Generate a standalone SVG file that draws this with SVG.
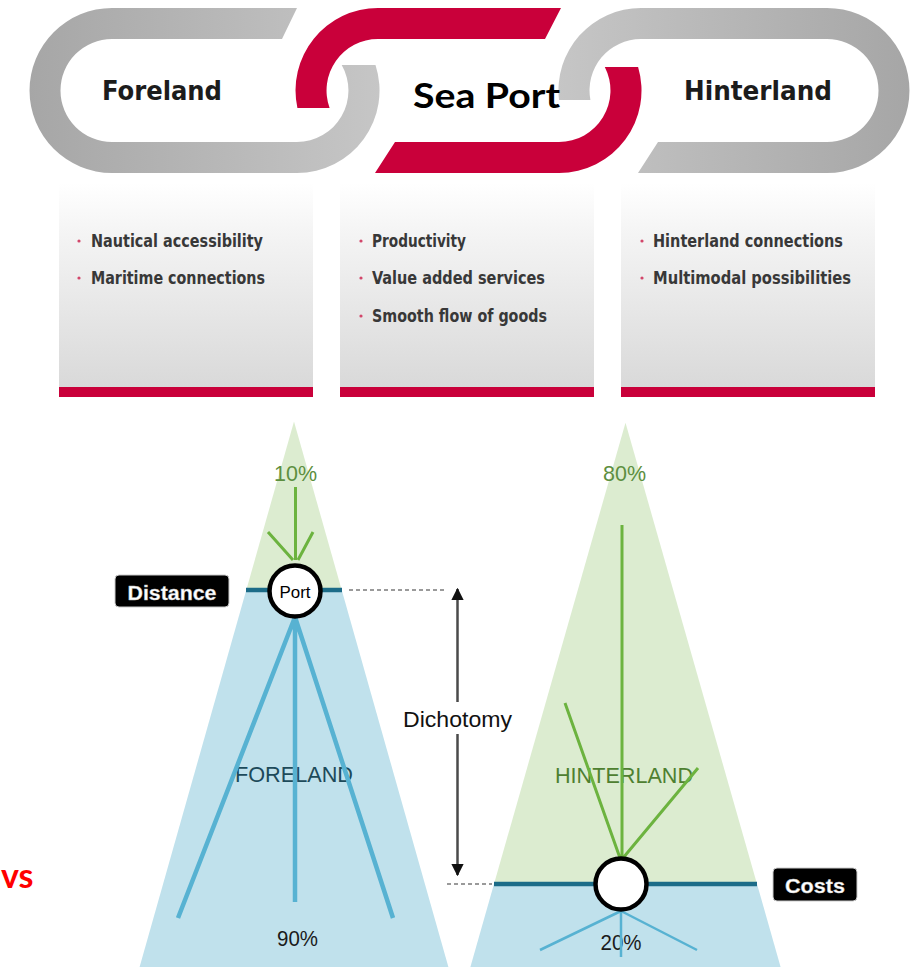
<svg xmlns="http://www.w3.org/2000/svg" width="914" height="967" viewBox="0 0 914 967">
<style>
.cond{font-family:"Liberation Sans Narrow","DejaVu Sans Condensed","Arial Narrow","Liberation Sans",sans-serif;font-stretch:condensed;}
.title{font-weight:bold;font-size:26px;fill:#1c1c1c;}
.bul{font-weight:bold;font-size:17.5px;fill:#383838;}
.dot{fill:#d2466a;}
.red{fill:#c9003a;}
.lbl{font-family:"Liberation Sans",Arial,sans-serif;font-size:22px;}
.tag{font-family:"Liberation Sans",Arial,sans-serif;font-size:20px;font-weight:bold;fill:#fff;stroke:#bbb;stroke-width:0.4;}
.gline{stroke:#6cb33f;stroke-width:3;fill:none;}
.bline{stroke:#57b2d2;fill:none;}
.teal{stroke:#1c6c88;stroke-width:4.5;fill:none;}
.dash{stroke:#9a9a9a;stroke-width:2;stroke-dasharray:4 3;fill:none;}
.node{fill:#fff;stroke:#000;stroke-width:4.5;}
</style>
<defs>
<linearGradient id="gA" gradientUnits="userSpaceOnUse" x1="28" y1="0" x2="380" y2="0">
<stop offset="0" stop-color="#a6a6a6"/><stop offset="1" stop-color="#c6c6c6"/>
</linearGradient>
<linearGradient id="gC" gradientUnits="userSpaceOnUse" x1="557" y1="0" x2="909" y2="0">
<stop offset="0" stop-color="#c6c6c6"/><stop offset="1" stop-color="#a6a6a6"/>
</linearGradient>
<linearGradient id="panel" x1="0" y1="0" x2="0" y2="1">
<stop offset="0" stop-color="#ffffff"/><stop offset="0.25" stop-color="#f4f4f4"/><stop offset="1" stop-color="#d9d9d9"/>
</linearGradient>
<marker id="ah" viewBox="0 0 10 10" refX="9" refY="5" markerWidth="5" markerHeight="5" orient="auto-start-reverse">
<path d="M0,0 L10,5 L0,10 Z" fill="#111"/>
</marker>
</defs>

<g id="foreland-link">
<path fill="url(#gA)" d="M297,8 L112,8 A82.5,82.5 0 0 0 112,173 L297,173 A82.5,82.5 0 0 0 375.5,65 L341.7,65 A51.5,51.5 0 0 1 297,142 L112,142 A51.5,51.5 0 0 1 112,39 L282,39 Z"/>
<text class="cond title" x="102" y="100" textLength="120" lengthAdjust="spacingAndGlyphs">Foreland</text>
</g>
<g id="seaport-link">
<path class="red" d="M561,8 L378,8 A82.5,82.5 0 0 0 297.4,108 L329.6,108 A51.5,51.5 0 0 1 378,39 L545,39 Z"/>
<path class="red" d="M375,173 L559,173 A82.5,82.5 0 0 0 638.1,67 L604.8,67 A51.5,51.5 0 0 1 559,142 L395,142 Z"/>
</g>
<g id="hinterland-link">
<path fill="url(#gC)" d="M559,100 A82.5,82.5 0 0 1 641,8 L827,8 A82.5,82.5 0 0 1 827,173 L638,173 L658,142 L827,142 A51.5,51.5 0 0 0 827,39 L641,39 A51.5,51.5 0 0 0 590.4,100 Z"/>
<text class="cond title" x="684" y="100" textLength="148" lengthAdjust="spacingAndGlyphs">Hinterland</text>
</g>
<g id="seaport-title">
<text x="413" y="108" font-family="Lato,'Open Sans',sans-serif" font-weight="bold" font-size="35" fill="#000" textLength="147" lengthAdjust="spacingAndGlyphs">Sea Port</text>
</g>

<g id="foreland-panel">
<rect x="59" y="183" width="254" height="204" fill="url(#panel)"/>
<rect class="red" x="59" y="387" width="254" height="10"/>
<circle class="dot" cx="79" cy="241" r="1.6"/>
<text class="cond bul" x="91" y="246.5" textLength="172" lengthAdjust="spacingAndGlyphs">Nautical accessibility</text>
<circle class="dot" cx="79" cy="278" r="1.6"/>
<text class="cond bul" x="91" y="283.5" textLength="174" lengthAdjust="spacingAndGlyphs">Maritime connections</text>
</g>
<g id="seaport-panel">
<rect x="340" y="183" width="254" height="204" fill="url(#panel)"/>
<rect class="red" x="340" y="387" width="254" height="10"/>
<circle class="dot" cx="361" cy="241" r="1.6"/>
<text class="cond bul" x="372" y="246.5" textLength="94" lengthAdjust="spacingAndGlyphs">Productivity</text>
<circle class="dot" cx="361" cy="278" r="1.6"/>
<text class="cond bul" x="372" y="283.5" textLength="173" lengthAdjust="spacingAndGlyphs">Value added services</text>
<circle class="dot" cx="361" cy="316" r="1.6"/>
<text class="cond bul" x="372" y="321.5" textLength="175" lengthAdjust="spacingAndGlyphs">Smooth flow of goods</text>
</g>
<g id="hinterland-panel">
<rect x="621" y="183" width="254" height="204" fill="url(#panel)"/>
<rect class="red" x="621" y="387" width="254" height="10"/>
<circle class="dot" cx="642" cy="241" r="1.6"/>
<text class="cond bul" x="653" y="246.5" textLength="190" lengthAdjust="spacingAndGlyphs">Hinterland connections</text>
<circle class="dot" cx="642" cy="278" r="1.6"/>
<text class="cond bul" x="653" y="283.5" textLength="198" lengthAdjust="spacingAndGlyphs">Multimodal possibilities</text>
</g>

<g id="foreland-cone">
<polygon points="294,421.5 246.3,590 341.7,590" fill="#dcecd0"/>
<polygon points="246.3,590 341.7,590 448.4,967 139.6,967" fill="#c0e1ec"/>
<text class="lbl" x="295.5" y="481" text-anchor="middle" fill="#5d8f3f" textLength="43" lengthAdjust="spacingAndGlyphs">10%</text>
<text class="lbl" x="294" y="782" text-anchor="middle" fill="#1d4a5a" textLength="118" lengthAdjust="spacingAndGlyphs">FORELAND</text>
<text class="lbl" x="297.5" y="946" text-anchor="middle" fill="#1a1a1a" textLength="41" lengthAdjust="spacingAndGlyphs">90%</text>
</g>
<g id="hinterland-cone">
<polygon points="625.5,422.7 494,884 757,884" fill="#dcecd0"/>
<polygon points="494,884 757,884 780.6,967 470.4,967" fill="#c0e1ec"/>
<text class="lbl" x="624.5" y="481" text-anchor="middle" fill="#5d8f3f" textLength="43" lengthAdjust="spacingAndGlyphs">80%</text>
<text class="lbl" x="624" y="783" text-anchor="middle" fill="#4e8030" textLength="138" lengthAdjust="spacingAndGlyphs">HINTERLAND</text>
<text class="lbl" x="621" y="950" text-anchor="middle" fill="#1a1a1a" textLength="41" lengthAdjust="spacingAndGlyphs">20%</text>
</g>

<g id="connectors">
<path class="gline" d="M295.5,487 V560 M268,532 L293,560 M313,532 L298,560"/>
<path class="bline" stroke-width="4.5" d="M295,617 L178,918 M295,617 V902 M295,617 L393,918"/>
<path class="gline" d="M622,525 V858 M565,703 L620,858 M698,768 L623,858"/>
<path class="bline" stroke-width="2.5" d="M621,911 L540,950 M621,911 L697,950 M621,911 V957"/>
<path class="teal" d="M246,590 H342"/>
<path class="teal" d="M494,884 H757"/>
<path class="dash" d="M349,590 H445"/>
<path class="dash" d="M447,884 H492"/>
<path d="M457.5,702 V589" stroke="#4a4a4a" stroke-width="2.5" fill="none" marker-end="url(#ah)"/>
<path d="M457.5,734 V875" stroke="#4a4a4a" stroke-width="2.5" fill="none" marker-end="url(#ah)"/>
</g>

<g id="port-node">
<circle class="node" cx="295" cy="591" r="25.5"/>
<text x="295" y="598" text-anchor="middle" font-family="'Liberation Sans',Arial,sans-serif" font-size="17" fill="#000" textLength="31" lengthAdjust="spacingAndGlyphs">Port</text>
</g>
<g id="hinterland-node">
<circle class="node" cx="621" cy="884" r="25.5"/>
</g>
<g id="distance-label">
<rect x="115" y="575" width="114" height="32" rx="4" fill="#000" stroke="#ccc" stroke-width="1"/>
<text class="tag" x="172" y="600" text-anchor="middle" textLength="89" lengthAdjust="spacingAndGlyphs">Distance</text>
</g>
<g id="costs-label">
<rect x="773" y="868" width="84" height="33" rx="4" fill="#000" stroke="#ccc" stroke-width="1"/>
<text class="tag" x="815" y="893" text-anchor="middle" textLength="60" lengthAdjust="spacingAndGlyphs">Costs</text>
</g>
<g id="dichotomy-label">
<text class="lbl" x="403" y="727" fill="#111" textLength="109" lengthAdjust="spacingAndGlyphs">Dichotomy</text>
</g>
<g id="vs-label">
<text x="1" y="888" font-family="Lato,'Open Sans',sans-serif" font-weight="bold" font-size="34" fill="#ff0000">vs</text>
</g>
</svg>
